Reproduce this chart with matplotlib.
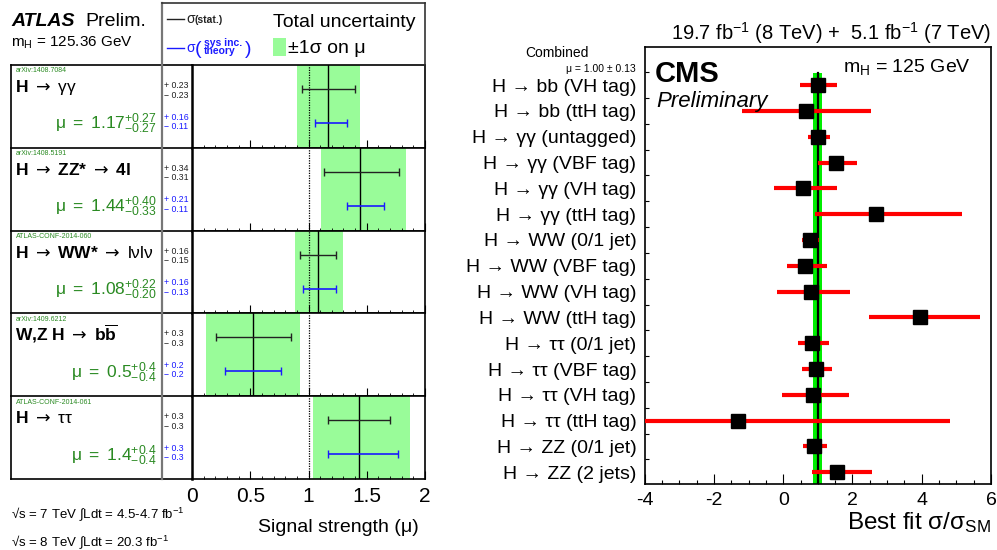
import numpy as np
import matplotlib
matplotlib.use('Agg')
import matplotlib.pyplot as plt
from matplotlib.ticker import MultipleLocator, FixedLocator

plt.rcParams['font.family'] = ['Liberation Sans', 'DejaVu Sans']
plt.rcParams['mathtext.fontset'] = 'custom'
plt.rcParams['mathtext.rm'] = 'Liberation Sans'
plt.rcParams['mathtext.it'] = 'Liberation Sans:italic'
plt.rcParams['mathtext.bf'] = 'Liberation Sans:bold'
plt.rcParams['mathtext.sf'] = 'DejaVu Sans'
plt.rcParams['mathtext.default'] = 'regular'

# ---------------- ATLAS data ----------------
atlas_refs = ['arXiv:1408.7084', 'arXiv:1408.5191', 'ATLAS-CONF-2014-060',
              'arXiv:1409.6212', 'ATLAS-CONF-2014-061']
atlas_channels = [r'$\mathbf{H}\ \mathsf{\rightarrow}\ \gamma\gamma$',
                  r'$\mathbf{H}\ \mathsf{\rightarrow}\ \mathbf{ZZ{*}}\ \mathsf{\rightarrow}\ \mathbf{4l}$',
                  r'$\mathbf{H}\ \mathsf{\rightarrow}\ \mathbf{WW{*}}\ \mathsf{\rightarrow}\ l\nu l\nu$',
                  r'$\mathbf{W{,}Z\ H}\ \mathsf{\rightarrow}\ \mathbf{b\overline{b}}$',
                  r'$\mathbf{H}\ \mathsf{\rightarrow}\ \tau\tau$']
atlas_mu = [1.17, 1.44, 1.08, 0.52, 1.43]
atlas_tot_lo = [0.27, 0.33, 0.20, 0.40, 0.39]
atlas_tot_hi = [0.27, 0.40, 0.22, 0.41, 0.44]
atlas_stat_lo = [0.23, 0.31, 0.15, 0.31, 0.26]
atlas_stat_hi = [0.23, 0.34, 0.16, 0.33, 0.27]
atlas_sys_lo = [0.11, 0.11, 0.13, 0.24, 0.26]
atlas_sys_hi = [0.16, 0.21, 0.16, 0.24, 0.34]
atlas_mu_text = ['1.17', '1.44', '1.08', '0.5', '1.4']
atlas_tot_hi_text = ['0.27', '0.40', '0.22', '0.4', '0.4']
atlas_tot_lo_text = ['0.27', '0.33', '0.20', '0.4', '0.4']
atlas_stat_hi_text = ['0.23', '0.34', '0.16', '0.3', '0.3']
atlas_stat_lo_text = ['0.23', '0.31', '0.15', '0.3', '0.3']
atlas_sys_hi_text = ['0.16', '0.21', '0.16', '0.2', '0.3']
atlas_sys_lo_text = ['0.11', '0.11', '0.13', '0.2', '0.3']
atlas_xticks = [0, 0.5, 1, 1.5, 2]
atlas_xticklabels = ['0', '0.5', '1', '1.5', '2']

# ---------------- CMS data ----------------
cms_labels = ['H \u2192 bb (VH tag)', 'H \u2192 bb (ttH tag)',
              'H \u2192 \u03b3\u03b3 (untagged)', 'H \u2192 \u03b3\u03b3 (VBF tag)',
              'H \u2192 \u03b3\u03b3 (VH tag)', 'H \u2192 \u03b3\u03b3 (ttH tag)',
              'H \u2192 WW (0/1 jet)', 'H \u2192 WW (VBF tag)',
              'H \u2192 WW (VH tag)', 'H \u2192 WW (ttH tag)',
              'H \u2192 \u03c4\u03c4 (0/1 jet)', 'H \u2192 \u03c4\u03c4 (VBF tag)',
              'H \u2192 \u03c4\u03c4 (VH tag)', 'H \u2192 \u03c4\u03c4 (ttH tag)',
              'H \u2192 ZZ (0/1 jet)', 'H \u2192 ZZ (2 jets)']
cms_mu = [1.00, 0.66, 1.01, 1.52, 0.58, 2.68, 0.77, 0.63, 0.80, 3.95,
          0.84, 0.95, 0.86, -1.32, 0.88, 1.55]
cms_lo = [0.49, -1.20, 0.73, 1.01, -0.27, 0.92, 0.53, 0.12, -0.17, 2.47,
          0.44, 0.53, -0.04, -4.30, 0.58, 0.84]
cms_hi = [1.54, 2.53, 1.35, 2.12, 1.56, 5.15, 1.03, 1.27, 1.94, 5.69,
          1.31, 1.41, 1.91, 4.82, 1.27, 2.55]
cms_comb_mu = 1.00
cms_comb_err = 0.13
cms_xticks = [-4, -2, 0, 2, 4, 6]

W, H = 997, 550
fig = plt.figure(figsize=(W / 100, H / 100), dpi=100)

ov = fig.add_axes([0, 0, 1, 1])
ov.set_xlim(0, W)
ov.set_ylim(H, 0)
ov.axis('off')
ov.set_zorder(10)
ov.patch.set_alpha(0)


def T(x, y, s, **kw):
    kw.setdefault('va', 'baseline')
    ov.text(x, y, s, **kw)


GREEN_TXT = '#2a8a22'
BAND = '#99fc99'
BLUE = '#1a1aff'

# ---------------- ATLAS panel ----------------
row_top0 = 65.0
row_h = 82.8
x0, x1 = 192.0, 425.0
n = len(atlas_mu)
for i in range(n):
    top = row_top0 + i * row_h
    ax = fig.add_axes([x0 / W, 1 - (top + row_h) / H, (x1 - x0) / W, row_h / H])
    ax.set_xlim(0, 2)
    ax.set_ylim(1, 0)
    m = atlas_mu[i]
    ax.axvspan(m - atlas_tot_lo[i], m + atlas_tot_hi[i], color=BAND, lw=0, zorder=1)
    ax.axvline(m, color='black', lw=1.0, zorder=2)
    ax.axvline(1, color='black', lw=0.9, ls=(0, (1, 1)), zorder=2)
    ax.errorbar([m], [0.29], xerr=[[atlas_stat_lo[i]], [atlas_stat_hi[i]]], fmt='none',
                ecolor='#222222', elinewidth=1.0, capsize=3, capthick=1.0, zorder=3)
    ax.errorbar([m], [0.70], xerr=[[atlas_sys_lo[i]], [atlas_sys_hi[i]]], fmt='none',
                ecolor=BLUE, elinewidth=1.2, capsize=3, capthick=1.0, zorder=3)
    ax.set_yticks([])
    ax.xaxis.set_major_locator(FixedLocator(atlas_xticks))
    ax.xaxis.set_minor_locator(MultipleLocator(0.1))
    ax.tick_params(axis='x', which='major', direction='in', length=6, width=0.8,
                   top=False, bottom=True, pad=6, labelsize=15)
    ax.tick_params(axis='x', which='minor', direction='in', length=2.5, width=0.6,
                   top=False, bottom=True)
    if i == n - 1:
        ax.set_xticklabels(atlas_xticklabels)
    else:
        ax.set_xticklabels([])
    for s in ['top', 'bottom', 'right']:
        ax.spines[s].set_linewidth(1.2)
    ax.spines['left'].set_linewidth(1.8)

    # label column
    T(15.5, top + 7.3, atlas_refs[i], fontsize=5, color=GREEN_TXT)
    T(15, top + 27, atlas_channels[i], fontsize=12.5)
    T(157, top + 64.3,
      r'$\mu\ =\ %s^{+%s}_{-%s}$' % (atlas_mu_text[i], atlas_tot_hi_text[i], atlas_tot_lo_text[i]),
      fontsize=12.5, color=GREEN_TXT, ha='right')
    T(164, top + 23.0, '+ ' + atlas_stat_hi_text[i], fontsize=6.3, color='#222222')
    T(164, top + 32.5, '\u2212 ' + atlas_stat_lo_text[i], fontsize=6.3, color='#222222')
    T(164, top + 54.5, '+ ' + atlas_sys_hi_text[i], fontsize=6.3, color=BLUE)
    T(164, top + 64.0, '\u2212 ' + atlas_sys_lo_text[i], fontsize=6.3, color=BLUE)

bottom = row_top0 + n * row_h
# frame lines
for i in range(n + 1):
    yy = row_top0 + i * row_h
    ov.plot([11, x0], [yy, yy], color='black', lw=1.2)
ov.plot([11, 11], [row_top0, bottom], color='black', lw=1.2)
ov.plot([162, 162], [3, bottom], color='#777777', lw=1.6)
ov.plot([162, x1], [3, 3], color='#333333', lw=1.2)
ov.plot([x1, x1], [3, row_top0], color='#333333', lw=1.2)

# header
T(11, 26, 'ATLAS', fontsize=14, fontweight='bold', fontstyle='italic')
T(85, 26, 'Prelim.', fontsize=14)
T(11, 46.7, r'm$_\mathrm{H}$ = 125.36 GeV', fontsize=11)
ov.plot([167, 184], [19.3, 19.3], color='#222222', lw=1.0)
T(186, 23, '\u03c3', fontsize=10, color='#222222')
T(194.5, 23, '(stat.)', fontsize=7.5, fontweight='bold', color='#222222')
ov.plot([167, 184], [48.3, 48.3], color=BLUE, lw=1.0)
T(186, 52.5, '\u03c3', fontsize=10, color=BLUE)
T(195, 54.5, '(', fontsize=14, color=BLUE)
T(203.5, 45.5, 'sys inc.', fontsize=7.5, fontweight='bold', color=BLUE)
T(203.5, 54.5, 'theory', fontsize=7.5, fontweight='bold', color=BLUE)
T(245, 54.5, ')', fontsize=14, color=BLUE)
T(272.5, 26.7, 'Total uncertainty', fontsize=14)
ov.add_patch(plt.Rectangle((272.7, 38.3), 13.5, 17.4, color=BAND, lw=0))
T(288, 53.3, '\u00b11\u03c3 on \u03bc', fontsize=14)

T(419, 531.7, 'Signal strength (\u03bc)', fontsize=14, ha='right')
T(11, 518.3, '\u221as = 7 TeV \u222bLdt = 4.5-4.7 fb$^{-1}$', fontsize=9.5)
T(11, 545.7, '\u221as = 8 TeV \u222bLdt = 20.3 fb$^{-1}$', fontsize=9.5)

# ---------------- CMS panel ----------------
cx0, cx1, cy0, cy1 = 644.7, 991.0, 46.7, 484.0
axr = fig.add_axes([cx0 / W, 1 - cy1 / H, (cx1 - cx0) / W, (cy1 - cy0) / H])
ypos = np.arange(len(cms_labels))
axr.set_xlim(-4, 6)
axr.set_ylim(15.455, -1.49)
axr.fill_betweenx([-0.47, 15.455], cms_comb_mu - cms_comb_err, cms_comb_mu + cms_comb_err,
                  color='#00ee00', lw=0, zorder=1)
axr.plot([cms_comb_mu, cms_comb_mu], [-0.47, 15.455], color='black', lw=1.6, zorder=2)
axr.hlines(ypos, cms_lo, cms_hi, color='#ff0000', lw=3.0, zorder=3)
axr.plot(cms_mu, ypos, 's', color='black', markersize=9.5, zorder=4)
axr.set_yticks(ypos)
axr.set_yticklabels(cms_labels, fontsize=14)
axr.yaxis.set_minor_locator(FixedLocator(np.arange(-0.5, 15.0, 1.0)))
axr.tick_params(axis='y', which='major', length=0, pad=6)
axr.tick_params(axis='y', which='minor', direction='in', length=3, width=0.8, left=True, right=False)
axr.xaxis.set_major_locator(FixedLocator(cms_xticks))
axr.xaxis.set_minor_locator(MultipleLocator(0.5))
axr.tick_params(axis='x', which='major', direction='in', length=7, width=0.8,
                top=False, bottom=True, labelsize=14, pad=6)
axr.tick_params(axis='x', which='minor', direction='in', length=3, width=0.8,
                top=False, bottom=True)
axr.set_xticklabels([str(v) for v in cms_xticks])
for s in axr.spines.values():
    s.set_linewidth(1.2)

T(991, 40, r'19.7 fb$^{-1}$ (8 TeV) +  5.1 fb$^{-1}$ (7 TeV)', fontsize=14.5, ha='right')
T(655, 82, 'CMS', fontsize=21, fontweight='bold')
T(656, 106.7, 'Preliminary', fontsize=16, fontstyle='italic')
T(843, 71.7, r'm$_\mathrm{H}$ = 125 GeV', fontsize=14)
T(557, 56.7, 'Combined', fontsize=10, ha='center')
T(636, 71.7, '\u03bc = 1.00 \u00b1 0.13', fontsize=7.5, ha='right')
T(991, 529, r'Best fit $\sigma/\sigma_{SM}$', fontsize=17.5, ha='right')

fig.savefig('out.png', dpi=100)
